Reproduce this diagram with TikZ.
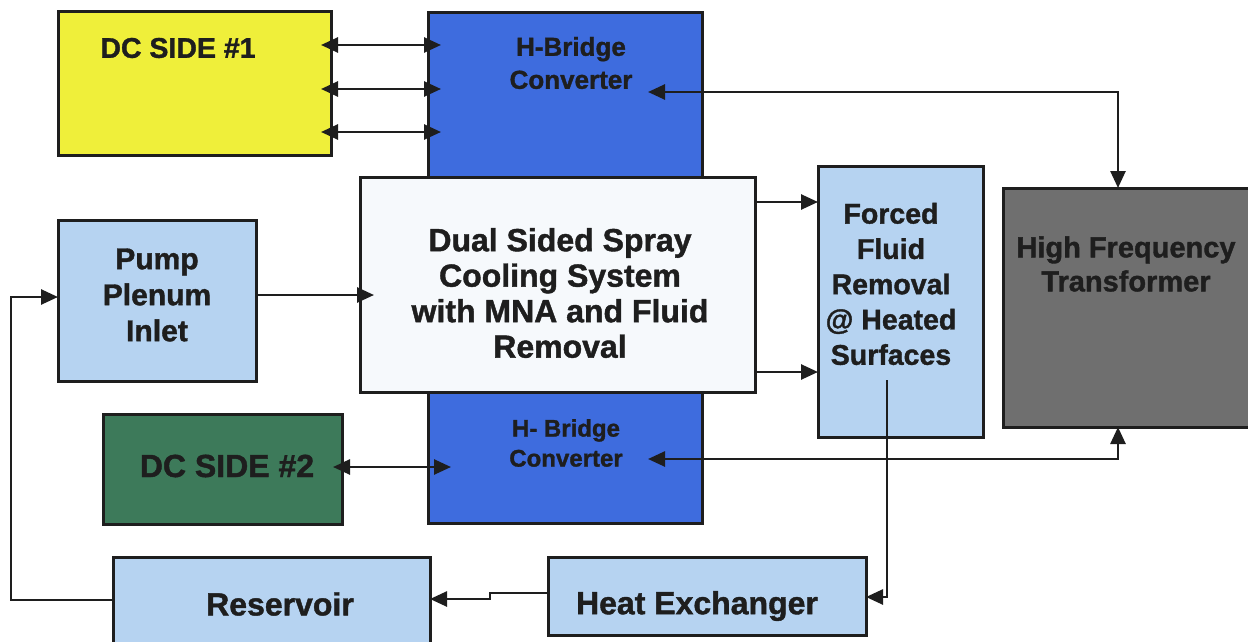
\documentclass[tikz,border=0pt]{standalone}
\usepackage{fontspec}
\setmainfont[BoldFeatures={FakeBold=1.3}]{Liberation Sans}
\usetikzlibrary{arrows.meta,fit}
\definecolor{dcyellow}{HTML}{EFEF3A}
\definecolor{hbblue}{HTML}{3E6CDE}
\definecolor{lightblue}{HTML}{B6D3F1}
\definecolor{spraywhite}{HTML}{F6F9FC}
\definecolor{dcgreen}{HTML}{3D7A5A}
\definecolor{hfgray}{HTML}{6F6F6F}
\definecolor{ink}{HTML}{1E1E1E}
\newcommand{\fsz}[1]{\fontsize{#1}{1.2\dimexpr#1pt\relax}\bfseries\selectfont}
\begin{document}
\begin{tikzpicture}[x=1pt,y=-1pt,
  box/.style={draw=ink, line width=3pt, inner sep=0pt},
  txt/.style={text=ink, align=center, inner sep=0pt},
  conn/.style={draw=ink, line width=2.6pt},
  onearrow/.style={conn, -{Triangle[length=17pt,width=15pt]}},
  biarrow/.style={conn, {Triangle[length=17pt,width=15pt]}-{Triangle[length=17pt,width=15pt]}}]
\useasboundingbox (0,0) rectangle (1248,642);

% boxes
\node[box, fill=dcyellow, fit={(58,12) (331,155)}] (dc1) {};
\node[box, fill=hbblue, fit={(428,13) (702,190)}] (hb1) {};
\node[box, fill=hbblue, fit={(428,385) (702,523)}] (hb2) {};
\node[box, fill=spraywhite, fit={(360,177) (755,392)}] (spray) {};
\node[box, fill=lightblue, fit={(818,166) (983,437)}] (forced) {};
\node[box, fill=hfgray, fit={(1003,188) (1260,427)}] (hft) {};
\node[box, fill=lightblue, fit={(58,220) (256,381)}] (pump) {};
\node[box, fill=dcgreen, fit={(103,414) (342,524)}] (dc2) {};
\node[box, fill=lightblue, fit={(113,557) (430,650)}] (res) {};
\node[box, fill=lightblue, fit={(548,557) (866,635)}] (hx) {};

% texts
\node[txt, font=\fsz{28.5}] (tdc1) at (178,48) {DC SIDE \#1};
\node[txt, font=\fontsize{26}{33}\bfseries\selectfont] (thb1) at (571,63) {H-Bridge\\Converter};
\node[txt, font=\fontsize{24}{30}\bfseries\selectfont] (thb2) at (566,443) {H- Bridge\\Converter};
\node[txt, font=\fontsize{32}{35.5}\bfseries\selectfont] (tspray) at (560,293) {Dual Sided Spray\\Cooling System\\with MNA and Fluid\\Removal};
\node[txt, font=\fontsize{28.5}{35.3}\bfseries\selectfont] (tforced) at (891,284) {Forced\\Fluid\\Removal\\@ Heated\\Surfaces};
\node[txt, font=\fontsize{29}{34}\bfseries\selectfont] (thft) at (1126,264) {High Frequency\\Transformer};
\node[txt, font=\fontsize{30}{36}\bfseries\selectfont] (tpump) at (157,295) {Pump\\Plenum\\Inlet};
\node[txt, font=\fsz{32}] (tdc2) at (227,466) {DC SIDE \#2};
\node[txt, font=\fsz{32}] (tres) at (280,604) {Reservoir};
\node[txt, font=\fsz{32}] (thx) at (697,606) {Heat Exchanger};

% connector end points
\coordinate (d1a) at (321,45);  \coordinate (h1a) at (441,45);
\coordinate (d1b) at (321,89);  \coordinate (h1b) at (441,89);
\coordinate (d1c) at (321,132); \coordinate (h1c) at (441,132);
\coordinate (h1t) at (648,92);  \coordinate (hfn) at (1118,188);
\coordinate (h2t) at (648,459); \coordinate (hfs) at (1118,427);
\coordinate (d2a) at (333,467); \coordinate (h2a) at (451,467);
\coordinate (sp1) at (755,202); \coordinate (fo1) at (818,202);
\coordinate (sp2) at (755,372); \coordinate (fo2) at (818,372);
\coordinate (pu1) at (256,295); \coordinate (sp3) at (374,295);
\coordinate (fo3) at (887,380); \coordinate (hx1) at (866,597);
\coordinate (hx2) at (548,593); \coordinate (jog) at (490,593);
\coordinate (re1) at (430,599);
\coordinate (re2) at (113,600); \coordinate (lft) at (11,600);
\coordinate (pu2) at (58,297);

% connectors
\draw[biarrow] (d1a) -- (h1a);
\draw[biarrow] (d1b) -- (h1b);
\draw[biarrow] (d1c) -- (h1c);
\draw[biarrow] (h1t) -| (hfn);
\draw[biarrow] (h2t) -| (hfs);
\draw[biarrow] (d2a) -- (h2a);
\draw[onearrow] (sp1) -- (fo1);
\draw[onearrow] (sp2) -- (fo2);
\draw[onearrow] (pu1) -- (sp3);
\draw[onearrow] (fo3) |- (hx1);
\draw[onearrow] (hx2) -- (jog) |- (re1);
\draw[onearrow] (re2) -- (lft) |- (pu2);
\end{tikzpicture}
\end{document}
